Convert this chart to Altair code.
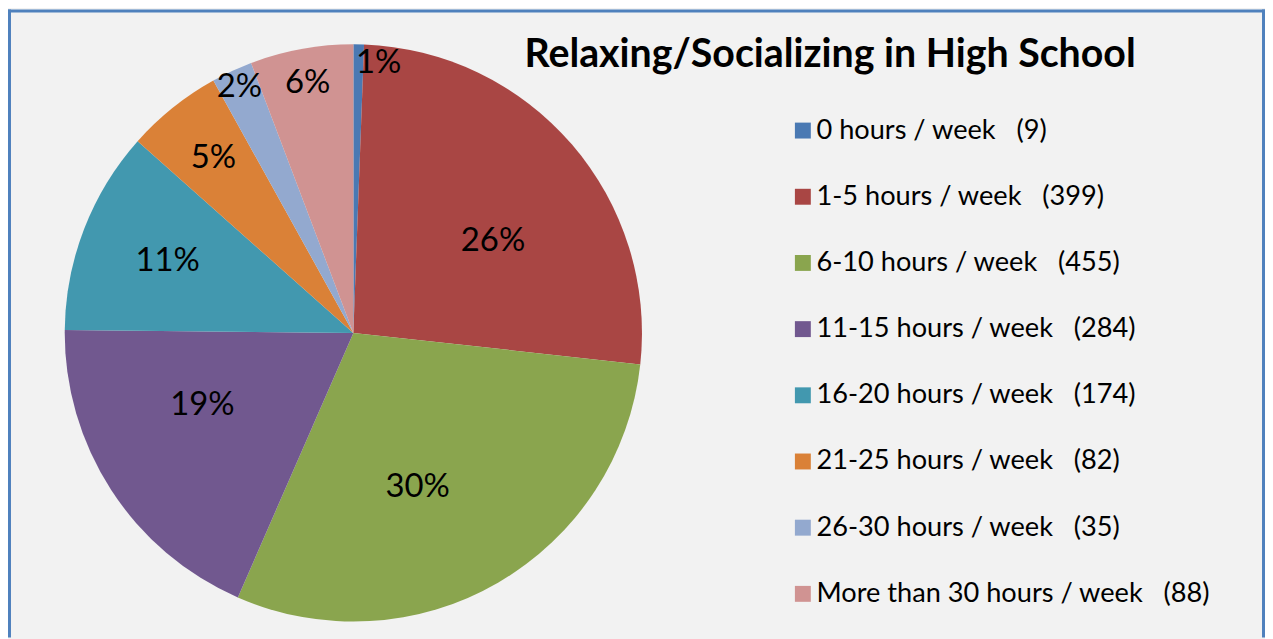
import altair as alt
import pandas as pd

categories = ["0 hours / week", "1-5 hours / week", "6-10 hours / week", "11-15 hours / week",
              "16-20 hours / week", "21-25 hours / week", "26-30 hours / week",
              "More than 30 hours / week"]
counts = [9, 399, 455, 284, 174, 82, 35, 88]
colors = ["#4A79B3", "#A94644", "#8AA54E", "#71588F", "#4298AF", "#DA8137", "#93A9CF", "#D09392"]
title_text = "Relaxing/Socializing in High School"

NB = "\u00a0"
labels = [f"{c}{NB*3}({n})" for c, n in zip(categories, counts)]

df = pd.DataFrame({"label": labels, "count": counts, "idx": list(range(len(counts)))})

W, H = 1263, 631
FONT = "Lato"
CX, CY, R = 347, 325, 290

color = alt.Color("label:N", scale=alt.Scale(domain=labels, range=colors),
                  legend=alt.Legend(title=None, orient="none", legendX=785, legendY=108,
                                    symbolType="square", symbolSize=256, symbolStrokeWidth=0,
                                    symbolOpacity=1, labelFontSize=27.3, labelFont=FONT,
                                    labelColor="#000000", labelLimit=700, labelOffset=0,
                                    rowPadding=38.5, padding=0, direction="vertical"))

arcs = alt.Chart(df).mark_arc(radius=R).encode(
    theta=alt.Theta("count:Q", stack=True),
    order=alt.Order("idx:Q"),
    color=color,
    x=alt.value(CX), y=alt.value(CY),
)

texts = alt.Chart(df).transform_joinaggregate(total="sum(count)").transform_window(
    cum="sum(count)", sort=[alt.SortField("idx", order="ascending")], frame=[None, 0]
).transform_calculate(
    pct="datum.count / datum.total",
).transform_calculate(
    ang="(datum.cum - datum.count / 2) / datum.total * 2 * PI + (datum.pct >= 0.15 ? 0.13 : datum.pct < 0.01 ? 0.075 : 0)",
    lr="datum.pct >= 0.15 ? 168 : datum.pct >= 0.08 ? 200 : datum.pct >= 0.057 ? 255 : datum.pct >= 0.04 ? 225 : 272",
).mark_text(font=FONT, fontSize=33, color="#000000", align="center", baseline="middle").encode(
    theta=alt.Theta("ang:Q", scale=None),
    radius=alt.Radius("lr:Q", scale=None),
    text=alt.Text("pct:Q", format=".0%"),
    x=alt.value(CX), y=alt.value(CY),
)

tdf = pd.DataFrame({"t": [title_text]})
title = alt.Chart(tdf).mark_text(font=FONT, fontSize=39.5, fontWeight="bold", color="#000000",
                                 align="center", baseline="alphabetic").encode(
    text="t:N", x=alt.value(826), y=alt.value(58))

fdf = pd.DataFrame({"a": [0]})
frame_l = alt.Chart(fdf).mark_rule(color="#4F81BD", strokeWidth=3).encode(x=alt.value(1.5))
frame_r = alt.Chart(fdf).mark_rule(color="#4F81BD", strokeWidth=3).encode(x=alt.value(W - 1.5))
frame_t = alt.Chart(fdf).mark_rule(color="#4F81BD", strokeWidth=3).encode(y=alt.value(1.5))

chart = alt.layer(arcs, texts, title, frame_l, frame_r, frame_t).properties(
    width=W, height=H, autosize=alt.AutoSizeParams(type="none"), padding=0,
    background="#F2F2F2"
).configure_view(stroke=None)

chart.save("out.html", embed_options={"renderer": "svg", "actions": False})
